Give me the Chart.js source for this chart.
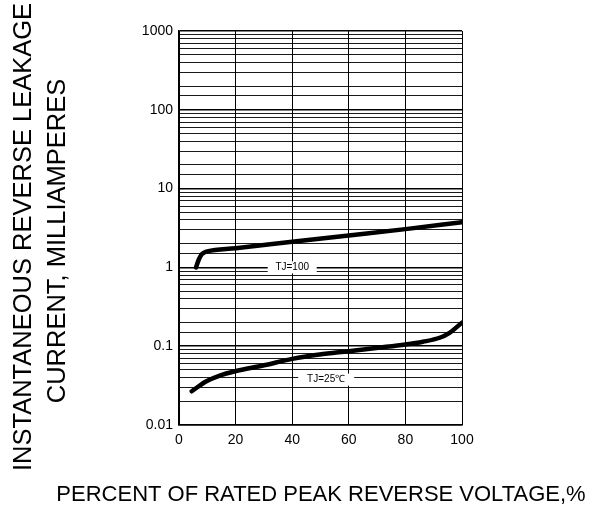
<!DOCTYPE html>
<html>
<head>
<meta charset="utf-8">
<script src="https://cdn.jsdelivr.net/npm/chart.js@4/dist/chart.umd.min.js"></script>
<style>
  html, body { margin: 0; padding: 0; background: #fff; }
  #wrap { width: 608px; height: 511px; }
</style>
</head>
<body>
<div id="wrap"><canvas id="leakageChart"></canvas></div>
<script>
// values (percent of rated voltage -> mA)
const hotPercent = [6, 7, 8, 9, 10, 20, 40, 60, 80, 100];
const hotCurrent = [1.0, 1.26, 1.46, 1.55, 1.6, 1.75, 2.11, 2.54, 3.06, 3.75];

const coldPercent = [4.5, 9.7, 14.4, 19.8, 29.7, 40, 49.7, 60, 69.7, 80, 86.2, 92.1, 95.6, 100];
const coldCurrent = [0.0268, 0.0359, 0.0424, 0.0481, 0.0569, 0.069, 0.0784, 0.0864, 0.095, 0.105, 0.114, 0.128, 0.148, 0.199];

const xTicks = [0, 20, 40, 60, 80, 100];
const yDecades = [0.01, 0.1, 1, 10, 100, 1000];

const curveLabels = [
    { text: 'TJ=100', x: 40, y: 1.0, w: 49 },
    { text: 'TJ=25\u2103', x: 52, y: 0.0377, w: 56 }
];

const yTitleLines = ['INSTANTANEOUS REVERSE LEAKAGE', 'CURRENT, MILLIAMPERES'];
const xTitle = 'PERCENT OF RATED PEAK REVERSE VOLTAGE,%';

const FONT = '"Liberation Sans", Arial, sans-serif';

function toPoints(xs, ys) {
    return xs.map((x, i) => ({ x: x, y: ys[i] }));
}

const isDecade = v => yDecades.some(d => Math.abs(d - v) / d < 1e-6);

const annotatePlugin = {
    id: 'annotate',
    afterDatasetsDraw(chart) {
        const ctx = chart.ctx;
        const xs = chart.scales.x;
        const ys = chart.scales.y;
        ctx.save();
        ctx.font = '10px ' + FONT;
        ctx.textAlign = 'center';
        ctx.textBaseline = 'middle';
        curveLabels.forEach(lbl => {
            const px = xs.getPixelForValue(lbl.x);
            const py = ys.getPixelForValue(lbl.y);
            ctx.fillStyle = '#fff';
            ctx.fillRect(px - lbl.w / 2, py - 6, lbl.w, 12);
            ctx.fillStyle = '#000';
            ctx.fillText(lbl.text, px, py);
        });
        ctx.restore();
    },
    afterDraw(chart) {
        const ctx = chart.ctx;
        ctx.save();
        ctx.fillStyle = '#000';
        ctx.textAlign = 'center';
        ctx.textBaseline = 'middle';

        // y title, two rotated lines
        ctx.font = '25.5px ' + FONT;
        const yPos = [[23.5, 237], [57.5, 241]];
        yTitleLines.forEach((line, i) => {
            ctx.save();
            ctx.translate(yPos[i][0], yPos[i][1]);
            ctx.rotate(-Math.PI / 2);
            ctx.fillText(line, 0, 0);
            ctx.restore();
        });

        // x title
        ctx.font = '22px ' + FONT;
        ctx.fillText(xTitle, 321, 495);
        ctx.restore();
    }
};

document.addEventListener('DOMContentLoaded', () => {
    const ctx = document.getElementById('leakageChart');

    new Chart(ctx, {
        type: 'line',
        data: {
            datasets: [{
                label: 'TJ=100',
                data: toPoints(hotPercent, hotCurrent),
                borderColor: '#000',
                borderWidth: 4.5,
                pointRadius: 0,
                cubicInterpolationMode: 'monotone',
                borderCapStyle: 'round'
            }, {
                label: 'TJ=25',
                data: toPoints(coldPercent, coldCurrent),
                borderColor: '#000',
                borderWidth: 4.5,
                pointRadius: 0,
                cubicInterpolationMode: 'monotone',
                borderCapStyle: 'round'
            }]
        },
        options: {
            responsive: true,
            maintainAspectRatio: false,
            animation: false,
            layout: { padding: { left: 0, right: 146, top: 31, bottom: 0 } },
            plugins: {
                legend: { display: false },
                tooltip: { enabled: false }
            },
            scales: {
                x: {
                    type: 'linear',
                    min: 0,
                    max: 100,
                    afterBuildTicks: scale => {
                        scale.ticks = xTicks.map(v => ({ value: v }));
                    },
                    afterFit: scale => { scale.height = 86; },
                    grid: { color: '#000', lineWidth: 1, drawTicks: false },
                    border: { color: '#000', width: 1.5 },
                    ticks: {
                        color: '#000',
                        padding: 7,
                        font: { family: FONT, size: 14 }
                    }
                },
                y: {
                    type: 'logarithmic',
                    min: 0.01,
                    max: 1000,
                    afterFit: scale => { scale.width = 179; },
                    grid: {
                        color: '#000',
                        lineWidth: c => (c.tick && isDecade(c.tick.value) ? 1.6 : 0.9),
                        drawTicks: false
                    },
                    border: { color: '#000', width: 1.5 },
                    ticks: {
                        color: '#000',
                        padding: 6,
                        autoSkip: false,
                        font: { family: FONT, size: 14 },
                        callback: function(value) {
                            return isDecade(value) ? String(value) : '';
                        }
                    }
                }
            }
        },
        plugins: [annotatePlugin]
    });
});
</script>
</body>
</html>
